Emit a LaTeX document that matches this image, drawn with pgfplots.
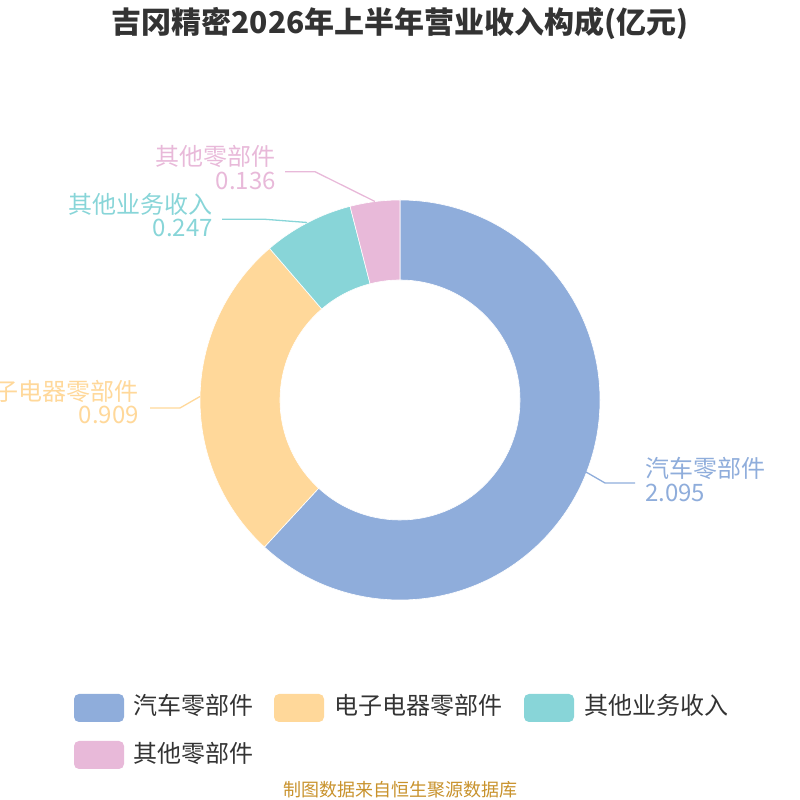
\documentclass[border=0pt]{standalone}
\usepackage{pgfplots}
\pgfplotsset{compat=1.18}
\usepackage{pgfplotstable}
\usepackage{fontspec}
\setmainfont{Noto Sans CJK SC}
\newfontfamily\cjk{Noto Sans CJK SC}
\definecolor{cA}{HTML}{8FADDB}
\definecolor{cB}{HTML}{FFD89A}
\definecolor{cC}{HTML}{88D5D8}
\definecolor{cD}{HTML}{E8B9D9}
\definecolor{ttl}{HTML}{333333}
\definecolor{foot}{HTML}{C8922C}
\pgfplotstableread{
idx value
0 2.095
1 0.909
2 0.247
3 0.136
}\datatable
\pgfkeys{/pgf/number format/.cd, assume math mode=true, fixed, precision=3, fixed zerofill}
\begin{document}
\begin{tikzpicture}
\pgfplotstablegetelem{0}{value}\of\datatable\let\vA\pgfplotsretval
\pgfplotstablegetelem{1}{value}\of\datatable\let\vB\pgfplotsretval
\pgfplotstablegetelem{2}{value}\of\datatable\let\vC\pgfplotsretval
\pgfplotstablegetelem{3}{value}\of\datatable\let\vD\pgfplotsretval
\pgfmathsetmacro\tot{\vA+\vB+\vC+\vD}
\pgfmathsetmacro\aA{90}
\pgfmathsetmacro\aB{\aA-360*\vA/\tot}
\pgfmathsetmacro\aC{\aB-360*\vB/\tot}
\pgfmathsetmacro\aD{\aC-360*\vC/\tot}
\pgfmathsetmacro\aE{\aD-360*\vD/\tot}
\begin{axis}[hide axis, scale only axis, width=800pt, height=800pt,
  xmin=0, xmax=800, ymin=0, ymax=800, clip=false]
\addplot[draw=none] coordinates {(0,0) (800,800)};
% donut slices
\fill[cA, draw=white, line width=0.6pt] ([shift={(axis cs:400,400)}]\aA:200pt) arc[start angle=\aA, end angle=\aB, radius=200pt] -- ([shift={(axis cs:400,400)}]\aB:120pt) arc[start angle=\aB, end angle=\aA, radius=120pt] -- cycle;
\fill[cB, draw=white, line width=0.6pt] ([shift={(axis cs:400,400)}]\aB:200pt) arc[start angle=\aB, end angle=\aC, radius=200pt] -- ([shift={(axis cs:400,400)}]\aC:120pt) arc[start angle=\aC, end angle=\aB, radius=120pt] -- cycle;
\fill[cC, draw=white, line width=0.6pt] ([shift={(axis cs:400,400)}]\aC:200pt) arc[start angle=\aC, end angle=\aD, radius=200pt] -- ([shift={(axis cs:400,400)}]\aD:120pt) arc[start angle=\aD, end angle=\aC, radius=120pt] -- cycle;
\fill[cD, draw=white, line width=0.6pt] ([shift={(axis cs:400,400)}]\aD:200pt) arc[start angle=\aD, end angle=\aE, radius=200pt] -- ([shift={(axis cs:400,400)}]\aE:120pt) arc[start angle=\aE, end angle=\aD, radius=120pt] -- cycle;
% leader lines
\draw[cA, line width=1.3pt] (axis cs:586,328) -- (axis cs:605,317) -- (axis cs:635,317);
\draw[cB, line width=1.3pt] (axis cs:200,403.5) -- (axis cs:180,392) -- (axis cs:150,392);
\draw[cC, line width=1.3pt] (axis cs:307,577.5) -- (axis cs:265,580.7) -- (axis cs:222,580.7);
\draw[cD, line width=1.3pt] (axis cs:375,598.5) -- (axis cs:315,628.3) -- (axis cs:285,628.3);
% labels
\begin{scope}[every node/.style={inner sep=0pt, font=\cjk\fontsize{24}{24}\selectfont}]
\node[cA, anchor=base west] at (axis cs:645,322) {汽车零部件};
\node[cA, anchor=base west] at (axis cs:645,298) {\pgfmathprintnumber{\vA}};
\node[cB, anchor=base east] at (axis cs:139,399) {电子电器零部件};
\node[cB, anchor=base east] at (axis cs:139,376) {\pgfmathprintnumber{\vB}};
\node[cC, anchor=base east] at (axis cs:213,586) {其他业务收入};
\node[cC, anchor=base east] at (axis cs:213,563) {\pgfmathprintnumber{\vC}};
\node[cD, anchor=base east] at (axis cs:276,634.5) {其他零部件};
\node[cD, anchor=base east] at (axis cs:276,610) {\pgfmathprintnumber{\vD}};
% legend
\fill[cA, rounded corners=5pt] (axis cs:74,78) rectangle (axis cs:124,106);
\fill[cB, rounded corners=5pt] (axis cs:274,78) rectangle (axis cs:324,106);
\fill[cC, rounded corners=5pt] (axis cs:524,78) rectangle (axis cs:574,106);
\fill[cD, rounded corners=5pt] (axis cs:74,31) rectangle (axis cs:124,59);
\node[ttl, anchor=base west] at (axis cs:133,85) {汽车零部件};
\node[ttl, anchor=base west] at (axis cs:334,85) {电子电器零部件};
\node[ttl, anchor=base west] at (axis cs:584,85) {其他业务收入};
\node[ttl, anchor=base west] at (axis cs:133,37) {其他零部件};
\end{scope}
\node[ttl, inner sep=0pt, anchor=base, font=\cjk\bfseries\fontsize{30}{30}\selectfont] at (axis cs:400,766) {吉冈精密2026年上半年营业收入构成(亿元)};
\node[foot, inner sep=0pt, anchor=base, font=\cjk\fontsize{18}{18}\selectfont] at (axis cs:400,4) {制图数据来自恒生聚源数据库};
\end{axis}
\pgfresetboundingbox
\path[use as bounding box] (0,0) rectangle (800pt,800pt);
\end{tikzpicture}
\end{document}
